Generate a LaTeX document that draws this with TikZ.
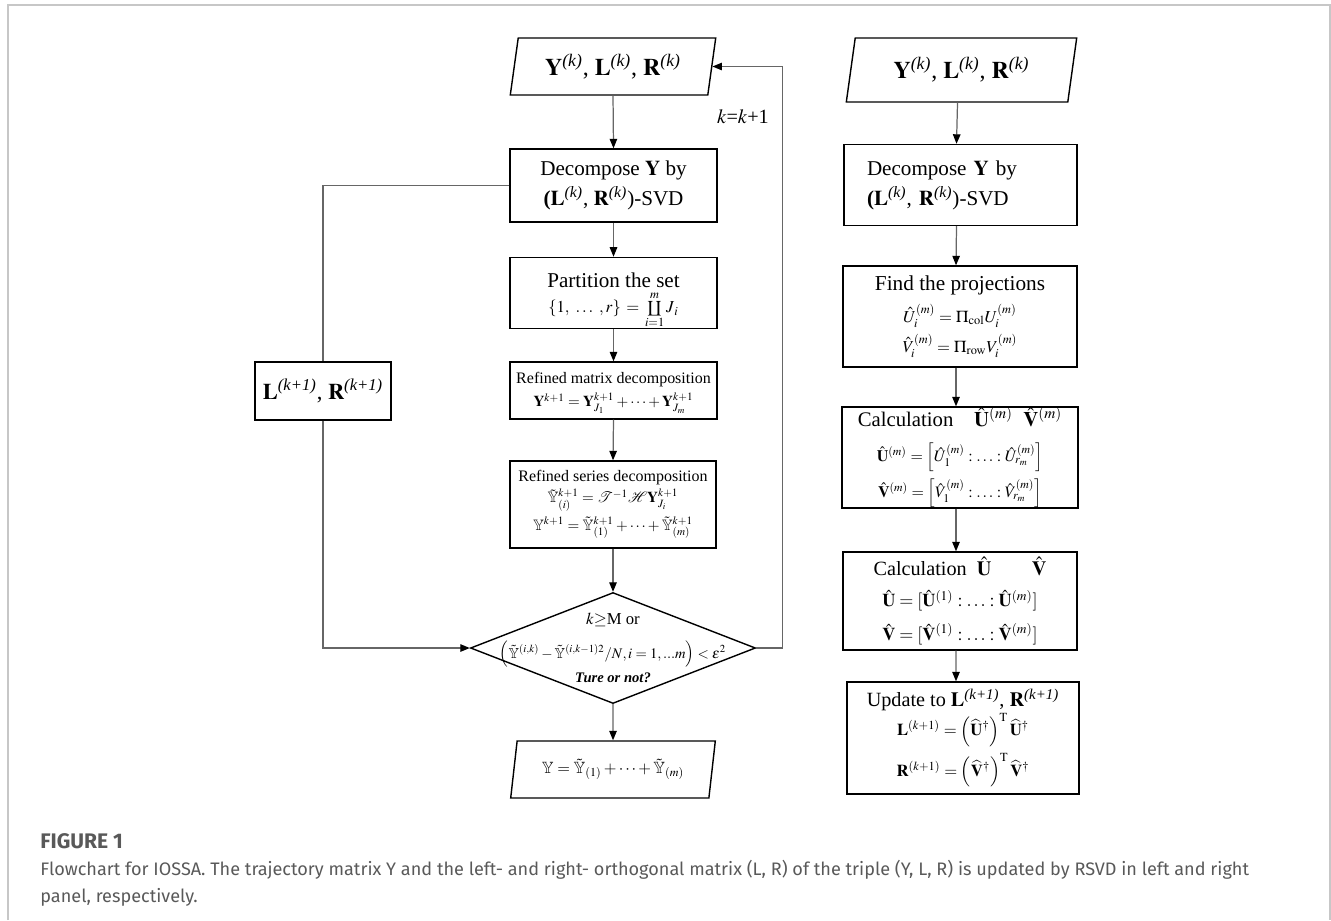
\documentclass[tikz,border=0pt]{standalone}
\usepackage{mathptmx}
\usepackage{amsmath}
\usepackage{amssymb}
\usepackage{graphicx}
\usepackage{fontspec}
\setmainfont{Liberation Serif}
\newfontfamily\capfont{Fira Sans}
\usetikzlibrary{shapes.geometric,arrows.meta}

\newcommand{\fml}{\fontsize{9.5}{11.5}\selectfont}
\newcommand{\cop}{\mathop{\rotatebox[origin=c]{180}{$\prod$}}}

\tikzset{
  box/.style={draw, line width=0.8pt, align=center, inner sep=0pt,
    font=\fontsize{12}{17}\selectfont},
  inout/.style={draw, line width=0.8pt, trapezium, trapezium left angle=77,
    trapezium right angle=103, trapezium stretches=true, inner sep=0pt,
    font=\fontsize{13.6}{16}\selectfont},
  decision/.style={draw, line width=0.8pt, diamond, inner sep=0pt},
  conn/.style={black!60, line width=0.7pt},
  arr/.style={conn, -{Triangle[black, length=1.9mm, width=1.5mm]}},
}

\begin{document}
\begin{tikzpicture}[x=0.2mm, y=-0.2mm]
\useasboundingbox (0,0) rectangle (1331,920);
% frame of the page
\draw[black!22, line width=0.4mm] (7.5,920) -- (7.5,4.5) -- (1330,4.5) -- (1330,920);

% left panel
\node[inout, minimum width=41.2mm, minimum height=11.4mm] (lin) at (613,66.5)
  {$\mathbf{Y}^{\textit{(k)}}$, $\mathbf{L}^{\textit{(k)}}$, $\mathbf{R}^{\textit{(k)}}$};
\node[box, minimum width=41.4mm, minimum height=14.6mm] (ldec) at (613.5,185.5)
  {Decompose $\mathbf{Y}$ by\\ \textbf{(}$\mathbf{L}^{\textit{(k)}}$, $\mathbf{R}^{\textit{(k)}}$)-SVD};
\node[box, minimum width=41.4mm, minimum height=11.6mm] (part) at (613.5,293)
  {\rule{0pt}{17pt}Partition the set\\[-2.5pt] {\fml$\{1,\ \ldots\ ,r\} \,=\, \cop\limits_{i=1}^{m} J_{\,i}$}};
\node[box, minimum width=41.4mm, minimum height=11.4mm, font=\fontsize{9.1}{12}\selectfont] (rmat) at (613.5,390.5)
  {\rule{0pt}{9pt}Refined matrix decomposition\\[1.5pt] {\fontsize{8.6}{10}\selectfont$\mathbf{Y}^{k+1} = \mathbf{Y}^{k+1}_{J_1} + \cdots + \mathbf{Y}^{k+1}_{J_m}$}};
\node[box, minimum width=41.2mm, minimum height=17.4mm, font=\fontsize{9.1}{12}\selectfont] (rser) at (613,504.5)
  {Refined series decomposition\\[0pt]
   {\fontsize{8.6}{10}\selectfont$\tilde{\mathbb{Y}}^{k+1}_{(i)} = \mathcal{T}^{-1}\mathcal{H}\mathbf{Y}^{k+1}_{J_i}$}\\[2pt]
   {\fontsize{8.6}{10}\selectfont$\mathbb{Y}^{k+1} = \tilde{\mathbb{Y}}^{k+1}_{(1)} + \cdots + \tilde{\mathbb{Y}}^{k+1}_{(m)}$}};
\node[decision, minimum width=57mm, minimum height=22.2mm] (dia) at (613,648) {};
\node[align=center, font=\fontsize{9.5}{12}\selectfont] (diatxt) at (613,648)
  {$k{\geq}$M or\\[7pt]
   {\fontsize{8.3}{10}\selectfont$\left(\tilde{\mathbb{Y}}^{(i,k)} - \tilde{\mathbb{Y}}^{(i,k-1)2} / N, i=1,...m\right) < \varepsilon^{2}$}\\[2pt]
   {\fontsize{8.3}{10}\selectfont\bfseries\itshape Ture or not?}};
\node[inout, minimum width=41.2mm, minimum height=11.4mm, font=\fontsize{9.3}{12}\selectfont] (lout) at (613,769.5)
  {$\mathbb{Y} = \tilde{\mathbb{Y}}_{(1)} + \cdots + \tilde{\mathbb{Y}}_{(m)}$};
\node[box, minimum width=27.2mm, minimum height=11.6mm, font=\fontsize{12.8}{15}\selectfont] (lbox) at (323,391)
  {$\mathbf{L}^{\textit{(k+1)}}$, $\mathbf{R}^{\textit{(k+1)}}$};
\node[font=\fontsize{11.5}{13}\selectfont] (kinc) at (743,117) {$k$=$k$+1};

\draw[arr] (lin.south) -- (ldec.north);
\draw[arr] (ldec.south) -- (part.north);
\draw[arr] (part.south) -- (rmat.north);
\draw[arr] (rmat.south) -- (rser.north);
\draw[arr] (rser.south) -- (dia.north);
\draw[arr] (dia.south) -- (lout.north);
%loop back on the right
\draw[arr] (dia.east) -- ++(26,0) |- (lin.east);
%loop on the left
\draw[conn] (ldec.west) -| (lbox.north);
\draw[arr] (lbox.south) |- (dia.west);

% right panel
\node[inout, minimum width=46.2mm, minimum height=12.8mm] (rin) at (961.5,70)
  {$\mathbf{Y}^{\textit{(k)}}$, $\mathbf{L}^{\textit{(k)}}$, $\mathbf{R}^{\textit{(k)}}$};
\node[box, align=left, text width=37.4mm, inner xsep=4.6mm, minimum height=16.2mm, font=\fontsize{12}{17}\selectfont] (rdec) at (960.5,185)
  {Decompose $\mathbf{Y}$ by\\ \textbf{(}$\mathbf{L}^{\textit{(k)}}$, $\mathbf{R}^{\textit{(k)}}$)-SVD};
\node[box, minimum width=46.8mm, minimum height=20.2mm, font=\fontsize{12.1}{14}\selectfont] (proj) at (960,316.5)
  {Find the projections\\[4pt]
   {\fml$\hat{U}_i^{(m)} = \Pi_{\mathrm{col}} U_i^{(m)}$}\\[3pt]
   {\fml$\hat{V}_i^{(m)} = \Pi_{\mathrm{row}} V_i^{(m)}$}};
\node[box, minimum width=47.2mm, minimum height=20.2mm, font=\fontsize{11.8}{14}\selectfont] (calc1) at (960,457.5)
  {Calculation\quad $\hat{\mathbf{U}}^{(m)}$\ \ $\hat{\mathbf{V}}^{(m)}$\\[6pt]
   {\fontsize{9.1}{11}\selectfont$\hat{\mathbf{U}}^{(m)} = \left[\hat{U}_1^{(m)} :\ldots: \hat{U}_{r_m}^{(m)}\right]$}\\[3pt]
   {\fontsize{9.1}{11}\selectfont$\hat{\mathbf{V}}^{(m)} = \left[\hat{V}_1^{(m)} :\ldots: \hat{V}_{r_m}^{(m)}\right]$}};
\node[box, minimum width=46.8mm, minimum height=19.6mm, font=\fontsize{11.5}{14}\selectfont] (calc2) at (960,601)
  {Calculation\ \ $\hat{\mathbf{U}}$\qquad$\hat{\mathbf{V}}$\\[4pt]
   {\fontsize{10.3}{12}\selectfont$\hat{\mathbf{U}} = [\hat{\mathbf{U}}^{(1)} :\ldots: \hat{\mathbf{U}}^{(m)}]$}\\[5pt]
   {\fontsize{10.3}{12}\selectfont$\hat{\mathbf{V}} = [\hat{\mathbf{V}}^{(1)} :\ldots: \hat{\mathbf{V}}^{(m)}]$}};
\node[box, minimum width=46.4mm, minimum height=22.4mm, font=\fontsize{11.5}{14}\selectfont] (upd) at (963,738)
  {Update to $\mathbf{L}^{\textit{(k+1)}}$, $\mathbf{R}^{\textit{(k+1)}}$\\
   {\fml$\mathbf{L}^{(k+1)} = \left(\widehat{\mathbf{U}}^{\dagger}\right)^{\mathrm{T}} \widehat{\mathbf{U}}^{\dagger}$}\\[3pt]
   {\fml$\mathbf{R}^{(k+1)} = \left(\widehat{\mathbf{V}}^{\dagger}\right)^{\mathrm{T}} \widehat{\mathbf{V}}^{\dagger}$}};

\draw[arr] ([xshift=-0.8mm]rin.south) -- ([xshift=-0.8mm]rdec.north);
\draw[arr] ([xshift=-0.8mm]rdec.south) -- ([xshift=-0.8mm]proj.north);
\draw[arr] ([xshift=-0.8mm]proj.south) -- ([xshift=-0.8mm]calc1.north);
\draw[arr] ([xshift=-0.8mm]calc1.south) -- ([xshift=-0.8mm]calc2.north);
\draw[arr] ([xshift=-0.8mm]calc2.south) -- ([xshift=-1.4mm]upd.north);

% caption
\node[anchor=base west, inner sep=0pt, text=black!65, font=\capfont\bfseries\fontsize{12}{14}\selectfont] (fig) at (40,848) {FIGURE 1};
\node[anchor=base west, inner sep=0pt, text=black!65, font=\capfont\fontsize{10.3}{12}\selectfont] (cap1) at (40,875)
  {Flowchart for IOSSA. The trajectory matrix Y and the left- and right- orthogonal matrix (L, R) of the triple (Y, L, R) is updated by RSVD in left and right};
\node[anchor=base west, inner sep=0pt, text=black!65, font=\capfont\fontsize{10.3}{12}\selectfont] (cap2) at (40,902)
  {panel, respectively.};
\end{tikzpicture}
\end{document}
